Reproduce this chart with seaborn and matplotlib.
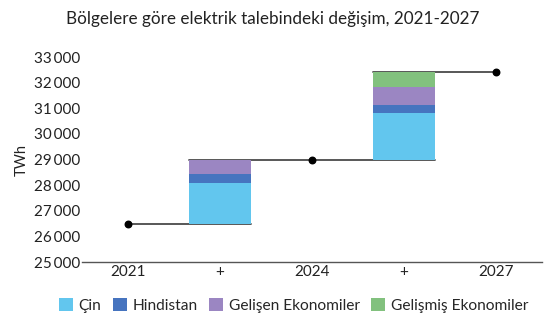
import matplotlib
matplotlib.use("Agg")
import matplotlib.pyplot as plt
import seaborn as sns
import numpy as np
import pandas as pd
from matplotlib.patches import Patch
from matplotlib.ticker import FuncFormatter

# Data
keys = ["2021", "+a", "2024", "+b", "2027"]
tick_labels = ["2021", "+", "2024", "+", "2027"]
levels = [26500, None, 29000, None, 32400]
series = ["Çin", "Hindistan", "Gelişen Ekonomiler", "Gelişmiş Ekonomiler"]
cin = [0, 1600, 0, 1800, 0]
hindistan = [0, 350, 0, 320, 0]
gelisen = [0, 550, 0, 730, 0]
gelismis = [0, 0, 0, 550, 0]
colors = ["#62C6EE", "#4674BF", "#9B86C2", "#82C17E"]

sns.set_theme(style="white")
plt.rcParams["font.family"] = ["Lato", "DejaVu Sans"]

fig = plt.figure(figsize=(5.49, 3.26), dpi=100)
ax = fig.add_axes([0.149, 0.196, 0.838, 0.629])

W = 0.67
base = [0, levels[0], 0, levels[2], 0]
bottom = np.array(base, dtype=float)
for name, vals, col in zip(series, [cin, hindistan, gelisen, gelismis], colors):
    df = pd.DataFrame({"k": keys, "v": vals})
    sns.barplot(data=df, x="k", y="v", order=keys, color=col, width=W,
                bottom=bottom.copy(), ax=ax, saturation=1, zorder=3, linewidth=0)
    bottom = bottom + np.array(vals)

lc = "#4a4a4a"
ax.plot([0, 1 + W / 2], [levels[0]] * 2, color=lc, lw=1.3, zorder=2)
ax.plot([1 - W / 2, 3 + W / 2], [levels[2]] * 2, color=lc, lw=1.3, zorder=2)
ax.plot([3 - W / 2, 4], [levels[4]] * 2, color=lc, lw=1.3, zorder=2)
ax.scatter([0, 2, 4], [levels[0], levels[2], levels[4]], color="black", s=22, zorder=5)

ax.set_ylim(25000, 33000)
ax.set_xlim(-0.5, 4.5)
ax.set_yticks(np.arange(25000, 33001, 1000))
ax.yaxis.set_major_formatter(FuncFormatter(lambda v, p: f"{int(v):,}".replace(",", "\u2009")))
ax.set_xticks(range(5))
ax.set_xticklabels(tick_labels)
ax.tick_params(axis="both", length=0, labelsize=11, colors="#222222")
ax.tick_params(axis="y", pad=1)
ax.tick_params(axis="x", pad=2)
ax.set_xlabel("")
ax.set_ylabel("TWh", fontsize=10.5, color="#222222", labelpad=4)
for s in ["top", "right", "left"]:
    ax.spines[s].set_visible(False)
ax.spines["bottom"].set_color("#555555")
ax.spines["bottom"].set_linewidth(1.0)

fig.text(0.12, 0.942, "Bölgelere göre elektrik talebindeki değişim, 2021-2027",
         fontsize=12.3, color="#222222", va="center", ha="left")

handles = [Patch(facecolor=c, edgecolor="none") for c in colors]
fig.legend(handles, series, loc="center", bbox_to_anchor=(0.535, 0.064), ncol=4,
           frameon=False, fontsize=11.2, handlelength=0.9, handleheight=0.9,
           handletextpad=0.35, columnspacing=0.75)

fig.savefig("out.png", dpi=100)
